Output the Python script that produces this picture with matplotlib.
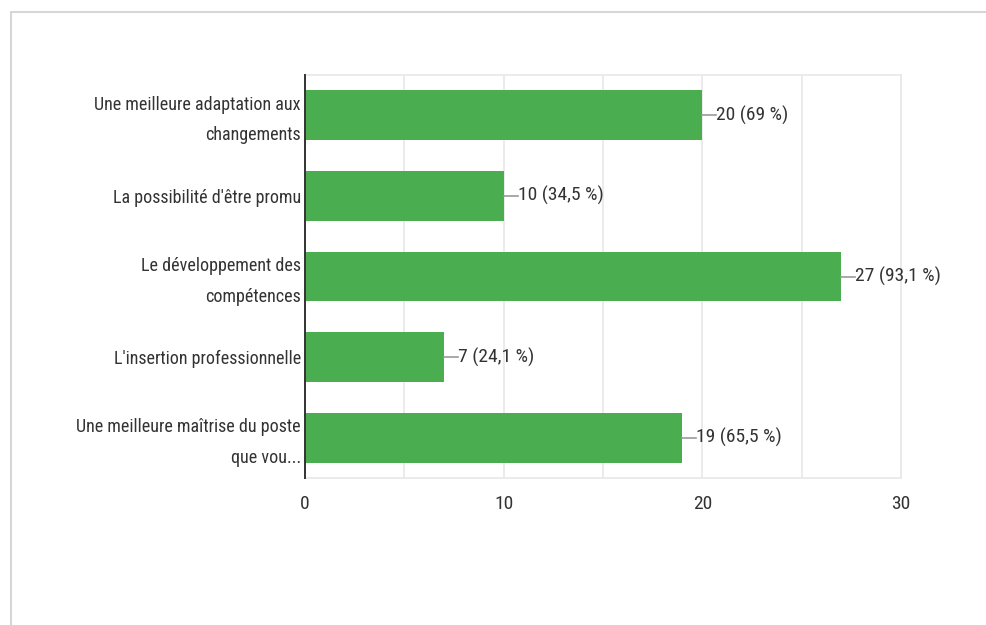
import matplotlib
matplotlib.use("Agg")
import matplotlib.pyplot as plt
import matplotlib.transforms as mtransforms
from matplotlib.patches import Rectangle
from matplotlib.ticker import MultipleLocator

# survey answers, top to bottom
categories = [
    "Une meilleure adaptation aux\nchangements",
    "La possibilité d'être promu",
    "Le développement des\ncompétences",
    "L'insertion professionnelle",
    "Une meilleure maîtrise du poste\nque vou...",
]
counts = [20, 10, 27, 7, 19]
percents = ["69", "34,5", "93,1", "24,1", "65,5"]
x_ticks = [0, 10, 20, 30]

BAR_GREEN = "#4aae50"
TEXT = "#333333"
GRID = "#e8e8e8"
FONT = ["Roboto Condensed", "Liberation Sans", "DejaVu Sans"]

plt.rcParams["font.family"] = FONT

W, H = 987, 625
fig = plt.figure(figsize=(W / 100, H / 100), dpi=100)
fig.patch.set_facecolor("white")

# card outline behind the chart
card = Rectangle((11 / W, -0.02), 1.2, (H - 12) / H + 0.02, transform=fig.transFigure,
                 facecolor="white", edgecolor="#d6d6d6", linewidth=1.5, zorder=-5)
fig.patches.append(card)

ax = fig.add_axes([305 / W, 1 - 478 / H, (901 - 305) / W, (478 - 75) / H])
ax.set_facecolor("none")

ypos = list(range(len(categories)))
ax.barh(ypos, counts, height=0.62, color=BAR_GREEN, zorder=2)

# leader line + value label at the end of each bar
lead = 0.7
for y, c, p in zip(ypos, counts, percents):
    ax.plot([c, c + lead], [y, y], color="#999999", linewidth=1.2, zorder=3)
    ax.text(c + lead, y, f"{c} ({p} %)", va="center", ha="left",
            fontsize=14, color=TEXT, fontstretch="condensed")

ax.set_xlim(0, 30)
ax.set_ylim(len(categories) - 0.5, -0.5)
ax.set_yticks(ypos)
ax.set_yticklabels(categories, fontsize=13, color=TEXT, linespacing=1.9,
                   fontstretch="condensed")
ax.set_xticks(x_ticks)
ax.xaxis.set_minor_locator(MultipleLocator(5))
ax.tick_params(axis="x", which="both", length=0, pad=12, labelsize=14, labelcolor=TEXT)
ax.tick_params(axis="y", length=0, pad=3)

# two-line labels sit a little low, nudge them up
for lbl in ax.get_yticklabels():
    if "\n" in lbl.get_text():
        lbl.set_transform(lbl.get_transform()
                          + mtransforms.ScaledTranslation(0, 3.5 / 100, fig.dpi_scale_trans))

ax.grid(axis="x", which="both", color=GRID, linewidth=1.2, zorder=0)
ax.set_axisbelow(True)

for side in ("top", "right", "bottom"):
    ax.spines[side].set_color(GRID)
    ax.spines[side].set_linewidth(1.2)
ax.spines["left"].set_color("#333333")
ax.spines["left"].set_linewidth(1.4)
ax.spines["left"].set_zorder(4)

fig.savefig("out.png", dpi=100)
